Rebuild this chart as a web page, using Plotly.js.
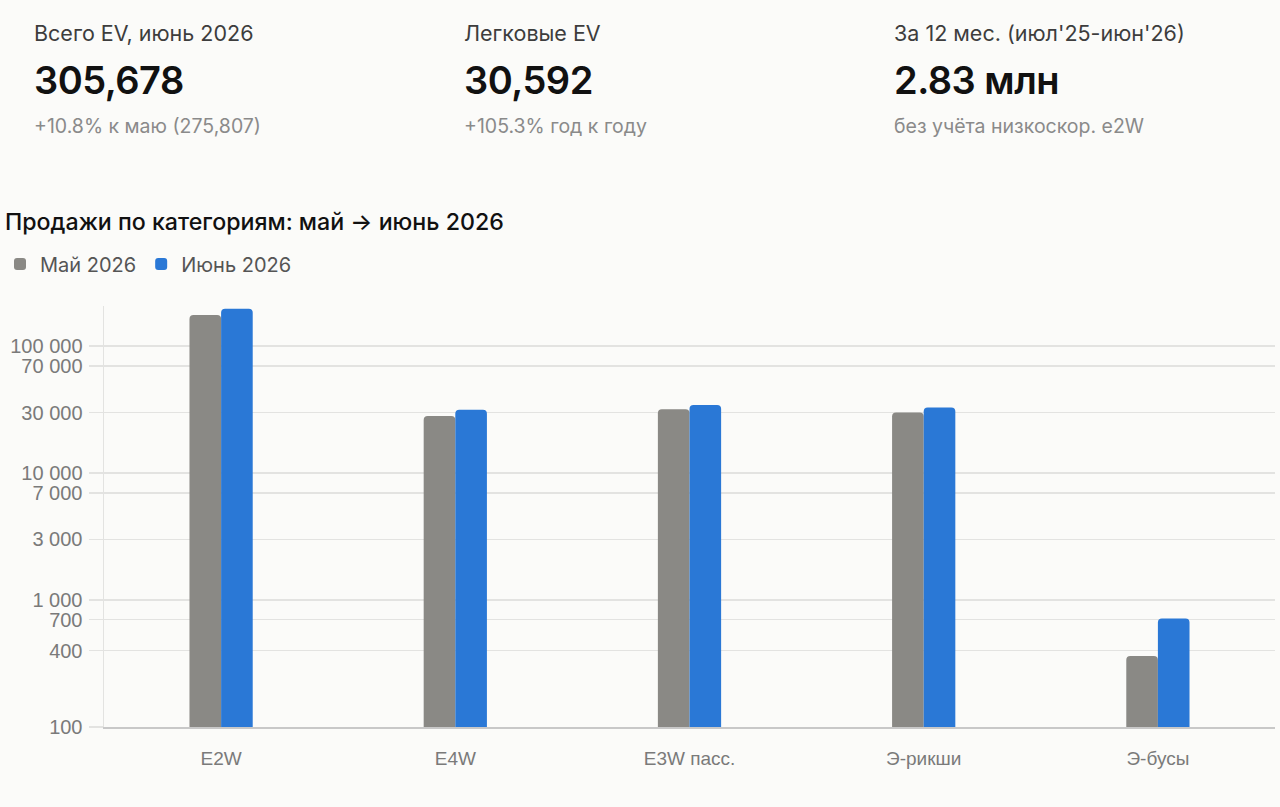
<!DOCTYPE html>
<html lang="ru">
<head>
<meta charset="utf-8">
<script src="https://cdn.plot.ly/plotly-3.0.1.min.js"></script>
<style>
  html, body { margin: 0; padding: 0; background: #fbfbf9; }
  #wrap { position: relative; width: 1280px; height: 807px; overflow: hidden; }
  #chart { position: absolute; left: 0; top: 0; width: 1280px; height: 807px; }
  .kpi { position: absolute; top: 18px; font-family: Inter, "Noto Sans", sans-serif; }
  .kpi .lbl { font-size: 21.5px; color: #3d3d3d; line-height: 30px; }
  .kpi .val { font-size: 38px; font-weight: 600; color: #111; line-height: 50px; margin-top: 7px; letter-spacing: -0.5px; }
  .kpi .note { font-size: 19.5px; color: #8a8a8a; line-height: 26px; margin-top: 8px; }
</style>
</head>
<body>
<div id="wrap">
  <div id="chart"></div>
</div>
<script>
// header cards
const kpiLabels = ["Всего EV, июнь 2026", "Легковые EV", "За 12 мес. (июл'25-июн'26)"];
const kpiValues = ["305,678", "30,592", "2.83 млн"];
const kpiNotes = ["+10.8% к маю (275,807)", "+105.3% год к году", "без учёта низкоскор. e2W"];
const kpiLeft = [34, 464, 894];

// bar data
const categories = ["E2W", "E4W", "E3W пасс.", "Э-рикши", "Э-бусы"];
const mayValues = [176000, 28100, 31800, 30000, 363];
const juneValues = [197000, 31500, 34400, 32800, 717];
const tickValues = [100, 400, 700, 1000, 3000, 7000, 10000, 30000, 70000, 100000];

const wrap = document.getElementById("wrap");
kpiLabels.forEach((lbl, i) => {
  const d = document.createElement("div");
  d.className = "kpi";
  d.style.left = kpiLeft[i] + "px";
  d.innerHTML = '<div class="lbl"></div><div class="val"></div><div class="note"></div>';
  d.querySelector(".lbl").textContent = lbl;
  d.querySelector(".val").textContent = kpiValues[i];
  d.querySelector(".note").textContent = kpiNotes[i];
  wrap.appendChild(d);
});

const gray = "#8a8985";
const blue = "#2a78d6";
const tickFont = { family: "Liberation Sans, Arial, sans-serif", size: 19, color: "#7a7a7a" };

const traces = [
  { type: "bar", name: "Май 2026", x: categories, y: mayValues, marker: { color: gray } },
  { type: "bar", name: "Июнь 2026", x: categories, y: juneValues, marker: { color: blue } },
];

const layout = {
  width: 1280,
  height: 807,
  margin: { l: 104, r: 5, t: 306, b: 80 },
  paper_bgcolor: "rgba(0,0,0,0)",
  plot_bgcolor: "rgba(0,0,0,0)",
  separators: ". ",
  barmode: "group",
  bargap: 0.73,
  bargroupgap: 0,
  barcornerradius: 4,
  title: {
    text: "Продажи по категориям: май → июнь 2026",
    font: { family: "Inter, Noto Sans, sans-serif", size: 23.2, color: "#111", weight: 500 },
    xref: "container", yref: "container",
    x: 5 / 1280, xanchor: "left",
    y: 1 - 222 / 807, yanchor: "middle",
  },
  showlegend: true,
  legend: {
    orientation: "h",
    xref: "container", yref: "container",
    x: 0, xanchor: "left",
    y: 1 - 264 / 807, yanchor: "middle",
    font: { family: "Inter, Noto Sans, sans-serif", size: 20, color: "#555" },
    traceorder: "normal",
  },
  xaxis: {
    type: "category",
    tickfont: tickFont,
    showgrid: false,
    showline: true,
    linecolor: "#c8c8c8",
    linewidth: 1.5,
    ticks: "",
    ticklabelstandoff: 14,
    fixedrange: true,
  },
  yaxis: {
    type: "log",
    range: [2, 5.316],
    tickvals: tickValues,
    tickformat: ",d",
    tickfont: Object.assign({}, tickFont, { size: 20 }),
    showgrid: true,
    gridcolor: "#e3e3e1",
    gridwidth: 1.5,
    ticks: "outside",
    ticklen: 14,
    tickcolor: "#e3e3e1",
    tickwidth: 1.5,
    showline: true,
    linecolor: "#e3e3e1",
    linewidth: 1.5,
    zeroline: false,
    ticklabelstandoff: 2,
    fixedrange: true,
  },
};

Plotly.newPlot("chart", traces, layout, { displayModeBar: false, staticPlot: true });
</script>
</body>
</html>
